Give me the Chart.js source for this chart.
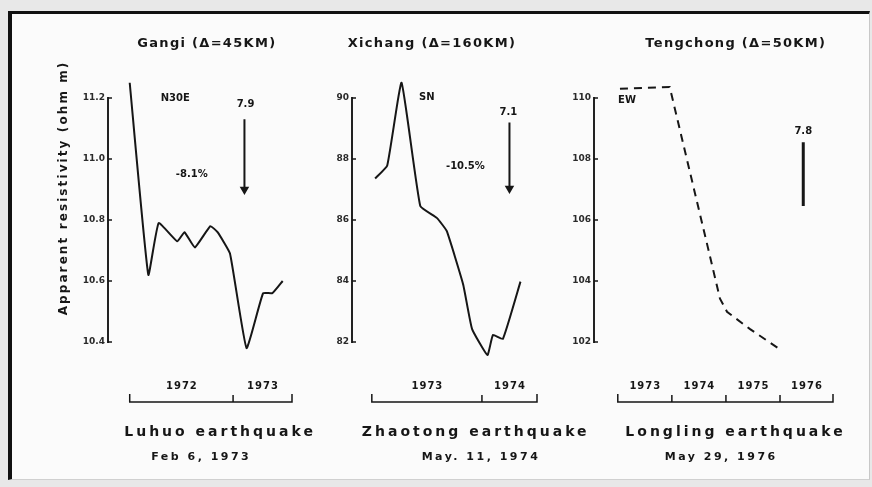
<!DOCTYPE html>
<html>
<head>
<meta charset="utf-8">
<script src="https://cdn.jsdelivr.net/npm/chart.js@4"></script>
<style>
html, body { margin:0; padding:0; background:#e8e8e8; width:872px; height:487px; overflow:hidden; }
#frame { position:absolute; left:8px; top:11px; width:857px; height:465px; background:#fbfbfb;
  border-left:4px solid #111; border-top:3px solid #111; border-right:1px solid #c8c8c8; border-bottom:1px solid #d0d0d0; }
canvas { position:absolute; left:0; top:0; }
</style>
</head>
<body>
<div id="frame"></div>
<canvas id="gangi" width="872" height="487"></canvas>
<canvas id="xichang" width="872" height="487"></canvas>
<canvas id="tengchong" width="872" height="487"></canvas>
<script>
// Gangi station, Luhuo earthquake
const gangiYears = [1972.0, 1972.18, 1972.28, 1972.46, 1972.53, 1972.63, 1972.78, 1972.85, 1972.97, 1973.13, 1973.29, 1973.38, 1973.48];
const gangiRho   = [11.25, 10.62, 10.79, 10.73, 10.76, 10.71, 10.78, 10.76, 10.69, 10.38, 10.56, 10.56, 10.60];
const gangiTicks = [10.4, 10.6, 10.8, 11.0, 11.2];
const gangiTickLabels = ['10.4', '10.6', '10.8', '11.0', '11.2'];
const gangiYearMarks = [1972, 1973];
const gangiYearLabels = ['1972', '1973'];
const gangiRange = [1971.79, 1973.57];

// Xichang station, Zhaotong earthquake
const xichangYears = [1973.03, 1973.14, 1973.27, 1973.44, 1973.59, 1973.68, 1973.83, 1973.91, 1974.05, 1974.10, 1974.19, 1974.35];
const xichangRho   = [87.36, 87.79, 90.5, 86.46, 86.07, 85.64, 83.88, 82.43, 81.57, 82.23, 82.10, 83.98];
const xichangTicks = [82, 84, 86, 88, 90];
const xichangTickLabels = ['82', '84', '86', '88', '90'];
const xichangYearMarks = [1973, 1974];
const xichangYearLabels = ['1973', '1974'];
const xichangRange = [1972.82, 1974.5];

// Tengchong station, Longling earthquake
const tengchongYears = [1973.04, 1973.96, 1974.67, 1974.89, 1975.02, 1975.44, 1975.99];
const tengchongRho   = [110.3, 110.36, 105.07, 103.42, 102.99, 102.43, 101.77];
const tengchongTicks = [102, 104, 106, 108, 110];
const tengchongTickLabels = ['102', '104', '106', '108', '110'];
const tengchongYearMarks = [1973, 1974, 1975, 1976];
const tengchongYearLabels = ['1973', '1974', '1975', '1976'];
const tengchongRange = [1972.56, 1976.98];

const INK = '#161616';
const FONT = '"DejaVu Sans", sans-serif';

function spacedText(ctx, text, x, y, spacing) {
    ctx.letterSpacing = spacing + 'px';
    // trailing spacing is added after the last letter, shift to keep it centred
    ctx.fillText(text, x + spacing / 2, y);
    ctx.letterSpacing = '0px';
}

// draws the year bracket under the plot, captions and notes
const figurePlugin = {
    id: 'figure',
    afterDraw(chart, args, opts) {
        const ctx = chart.ctx;
        const xs = chart.scales.x, ys = chart.scales.y;
        const area = chart.chartArea;
        ctx.save();
        ctx.fillStyle = INK;
        ctx.strokeStyle = INK;

        // small ticks to the right of the y axis
        ctx.lineWidth = 1.5;
        ys.ticks.forEach(t => {
            const py = ys.getPixelForValue(t.value);
            ctx.beginPath();
            ctx.moveTo(area.left, py);
            ctx.lineTo(area.left + 4, py);
            ctx.stroke();
        });

        // year bracket
        const by = area.bottom + 60;
        const x0 = xs.getPixelForValue(opts.yearMarks[0]);
        const x1 = area.right;
        ctx.lineWidth = 1.5;
        ctx.beginPath();
        ctx.moveTo(x0, by - 8); ctx.lineTo(x0, by); ctx.lineTo(x1, by); ctx.lineTo(x1, by - 8);
        opts.yearMarks.slice(1).forEach(m => {
            const px = xs.getPixelForValue(m);
            ctx.moveTo(px, by); ctx.lineTo(px, by - 7);
        });
        ctx.stroke();
        ctx.font = 'bold 10px ' + FONT;
        ctx.textAlign = 'center';
        ctx.textBaseline = 'middle';
        opts.yearLabels.forEach((lab, i) => {
            const a = xs.getPixelForValue(opts.yearMarks[i]);
            const b = i + 1 < opts.yearMarks.length ? xs.getPixelForValue(opts.yearMarks[i + 1]) : x1;
            spacedText(ctx, lab, (a + b) / 2, by - 16, 1);
        });

        // title and captions
        ctx.font = 'bold 13px ' + FONT;
        spacedText(ctx, opts.title, xs.getPixelForValue(opts.titleX), 44, 1.3);
        ctx.font = 'bold 14px ' + FONT;
        spacedText(ctx, opts.caption, xs.getPixelForValue(opts.captionX), 432, 3);
        ctx.font = 'bold 11px ' + FONT;
        spacedText(ctx, opts.date, xs.getPixelForValue(opts.dateX), 457, 2.5);

        // notes inside the plot
        ctx.font = 'bold 10px ' + FONT;
        opts.notes.forEach(n => {
            ctx.fillText(n.text, xs.getPixelForValue(n.x), ys.getPixelForValue(n.y));
        });

        if (opts.yTitle) {
            ctx.translate(64, 189);
            ctx.rotate(-Math.PI / 2);
            ctx.font = 'bold 12px ' + FONT;
            spacedText(ctx, opts.yTitle, 0, 0, 2.1);
        }
        ctx.restore();
    }
};

function Panel(id, p) {
    const lineData = p.years.map((x, i) => ({x: x, y: p.rho[i]}));
    const datasets = [{
        data: lineData,
        borderColor: INK,
        borderWidth: 2,
        borderDash: p.dashed ? [8, 6] : [],
        pointRadius: 0,
        tension: p.dashed ? 0 : 0.12,
        clip: false
    }, {
        data: [{x: p.quake.x, y: p.quake.y0}, {x: p.quake.x, y: p.quake.y1}],
        borderColor: INK,
        backgroundColor: INK,
        borderWidth: p.quake.arrow ? 2 : 3,
        pointRadius: p.quake.arrow ? [0, 3.5] : 0,
        pointStyle: 'triangle',
        rotation: 180,
        clip: false
    }];

    this.chart = new Chart(document.getElementById(id), {
        type: 'line',
        data: {datasets: datasets},
        options: {
            responsive: false,
            animation: false,
            layout: {padding: {left: p.area[0] - 30, right: 872 - p.area[1], top: 98, bottom: 145}},
            plugins: {
                legend: {display: false},
                tooltip: {enabled: false},
                figure: p.figure
            },
            scales: {
                x: {type: 'linear', display: false, min: p.range[0], max: p.range[1]},
                y: {
                    min: p.ticks[0],
                    max: p.ticks[p.ticks.length - 1],
                    afterBuildTicks: s => { s.ticks = p.ticks.map(v => ({value: v})); },
                    afterFit: s => { s.width = 30; },
                    ticks: {
                        callback: (v, i) => p.tickLabels[i],
                        font: {size: 9, weight: 'bold', family: FONT},
                        color: '#2a2a2a',
                        padding: 3
                    },
                    grid: {display: true, drawOnChartArea: false, drawTicks: false},
                    border: {display: true, color: '#222', width: 2}
                }
            }
        },
        plugins: [figurePlugin]
    });
}

new Panel('gangi', {
    years: gangiYears, rho: gangiRho, ticks: gangiTicks, tickLabels: gangiTickLabels,
    range: gangiRange, area: [108, 292],
    quake: {x: 1973.11, y0: 11.13, y1: 10.90, arrow: true},
    figure: {
        yearMarks: gangiYearMarks, yearLabels: gangiYearLabels,
        title: 'Gangi (\u0394=45KM)', titleX: 1972.74,
        caption: 'Luhuo earthquake', captionX: 1972.86,
        date: 'Feb 6, 1973', dateX: 1972.68,
        yTitle: 'Apparent resistivity (ohm m)',
        notes: [
            {text: 'N30E', x: 1972.44, y: 11.2},
            {text: '7.9', x: 1973.12, y: 11.18},
            {text: '-8.1%', x: 1972.60, y: 10.95}
        ]
    }
});

new Panel('xichang', {
    years: xichangYears, rho: xichangRho, ticks: xichangTicks, tickLabels: xichangTickLabels,
    range: xichangRange, area: [352, 537],
    quake: {x: 1974.25, y0: 89.2, y1: 87.03, arrow: true},
    figure: {
        yearMarks: xichangYearMarks, yearLabels: xichangYearLabels,
        title: 'Xichang (\u0394=160KM)', titleX: 1973.54,
        caption: 'Zhaotong earthquake', captionX: 1973.93,
        date: 'May. 11, 1974', dateX: 1973.98,
        notes: [
            {text: 'SN', x: 1973.5, y: 90.03},
            {text: '7.1', x: 1974.24, y: 89.54},
            {text: '-10.5%', x: 1973.85, y: 87.75}
        ]
    }
});

new Panel('tengchong', {
    years: tengchongYears, rho: tengchongRho, ticks: tengchongTicks, tickLabels: tengchongTickLabels,
    range: tengchongRange, area: [594, 833], dashed: true,
    quake: {x: 1976.43, y0: 108.55, y1: 106.46, arrow: false},
    figure: {
        yearMarks: tengchongYearMarks, yearLabels: tengchongYearLabels,
        title: 'Tengchong (\u0394=50KM)', titleX: 1975.17,
        caption: 'Longling earthquake', captionX: 1975.15,
        date: 'May 29, 1976', dateX: 1974.89,
        notes: [
            {text: 'EW', x: 1973.17, y: 109.93},
            {text: '7.8', x: 1976.43, y: 108.9}
        ]
    }
});
</script>
</body>
</html>
